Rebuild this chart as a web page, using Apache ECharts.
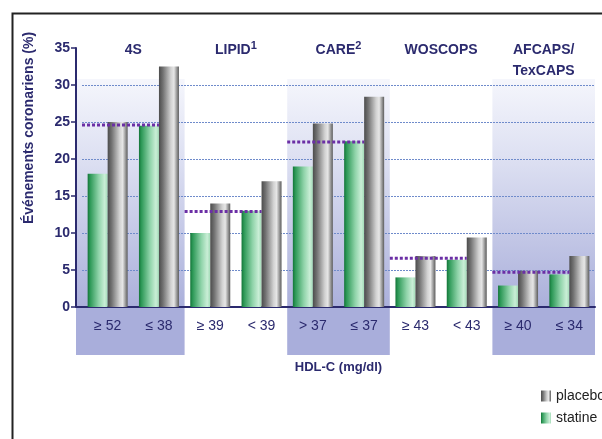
<!DOCTYPE html>
<html><head><meta charset="utf-8">
<script src="https://cdn.jsdelivr.net/npm/echarts@6/dist/echarts.min.js"></script>
<style>html,body{margin:0;padding:0;background:#fff}#c{width:602px;height:439px}</style>
</head><body><div id="c"></div>
<script>
// ---- data ----
const groups = ['4S', 'LIPID{sup|1}', 'CARE{sup|2}', 'WOSCOPS', 'AFCAPS/\nTexCAPS'];
const categories = ['≥ 52', '≤ 38', '≥ 39', '< 39', '> 37', '≤ 37', '≥ 43', '< 43', '≥ 40', '≤ 34'];
const statine = [18, 24.5, 10, 13, 19, 22.4, 4, 6.4, 2.9, 4.4];
const placebo = [25, 32.5, 14, 17, 24.8, 28.4, 6.9, 9.4, 4.9, 6.9];
const refLevel = [24.6, 12.9, 22.3, 6.6, 4.7];
const shadedGroups = [0, 2, 4];

// ---- styles ----
const NAVY = '#2b2a6e';
const AXIS_OFFSET = 6;
const BAND_TOP = 30.8;
const LABEL_BAND = 48;

const greenGrad = new echarts.graphic.LinearGradient(0, 0, 1, 0, [
  {offset: 0, color: '#137438'}, {offset: 0.12, color: '#2c9856'},
  {offset: 0.55, color: '#8fd3a9'}, {offset: 0.85, color: '#c9eed6'},
  {offset: 1, color: '#a2dbb7'}
]);
const grayGrad = new echarts.graphic.LinearGradient(0, 0, 1, 0, [
  {offset: 0, color: '#4c4c4c'}, {offset: 0.2, color: '#727272'},
  {offset: 0.6, color: '#d2d2d2'}, {offset: 0.75, color: '#e6e6e6'},
  {offset: 1, color: '#5c5c5c'}
]);

function renderBand(params, api) {
  const g = api.value(0);
  const bw = api.size([1, 0])[0];
  const l = api.coord([2 * g, 0]);
  const r = api.coord([2 * g + 1, 0]);
  let x0 = l[0] - bw / 2;
  const children = [];
  if (g === 0) {
    x0 = params.coordSys.x - AXIS_OFFSET;
    children.push({type: 'line', shape: {x1: x0, y1: l[1], x2: params.coordSys.x, y2: l[1]},
      style: {stroke: NAVY, lineWidth: 2}});
  }
  const x1 = r[0] + bw / 2;
  const yTop = api.coord([0, BAND_TOP])[1];
  const y0 = l[1];
  children.unshift(
    {type: 'rect', shape: {x: x0, y: yTop, width: x1 - x0, height: y0 - yTop},
      style: {fill: new echarts.graphic.LinearGradient(0, 0, 0, 1, [
        {offset: 0, color: '#f5f6fc'}, {offset: 0.35, color: '#dde0f2'}, {offset: 1, color: '#abb0db'}])}},
    {type: 'rect', shape: {x: x0, y: y0, width: x1 - x0, height: LABEL_BAND},
      style: {fill: '#a9aedb'}}
  );
  return {type: 'group', children: children};
}

function renderRef(params, api) {
  const g = api.value(0), v = api.value(1);
  const bw = api.size([1, 0])[0];
  const a = api.coord([2 * g, v]);
  const b = api.coord([2 * g + 1, v]);
  return {type: 'line', shape: {x1: a[0] - bw / 2, y1: a[1], x2: b[0], y2: b[1]},
    style: {stroke: '#6b2fa5', lineWidth: 3, lineDash: [3, 2]}};
}

const chart = echarts.init(document.getElementById('c'), null, {renderer: 'canvas'});
chart.setOption({
  animation: false,
  backgroundColor: '#fff',
  textStyle: {fontFamily: 'Liberation Sans, Arial, sans-serif'},
  grid: {left: 82, right: 7, top: 48, bottom: 132},
  graphic: [{
    type: 'rect', left: 10, top: 11, z: 100,
    shape: {width: 700, height: 600},
    style: {fill: 'none', stroke: '#222', lineWidth: 2}
  }],
  legend: {
    orient: 'vertical', left: 536, top: 384, itemWidth: 10, itemHeight: 11, itemGap: 8,
    data: ['placebo', 'statine'],
    textStyle: {fontSize: 14, color: '#222'}, icon: 'rect'
  },
  xAxis: [{
    type: 'category', data: categories,
    axisLine: {lineStyle: {color: NAVY, width: 2}},
    axisTick: {show: false},
    axisLabel: {interval: 0, fontSize: 14, color: NAVY, margin: 12},
    name: 'HDL-C (mg/dl)', nameLocation: 'middle', nameGap: 54,
    nameTextStyle: {fontSize: 13, fontWeight: 'bold', color: NAVY}
  }, {
    type: 'category', data: groups, position: 'top',
    axisLine: {show: false}, axisTick: {show: false}, splitLine: {show: false},
    axisLabel: {interval: 0, fontSize: 14, fontWeight: 'bold', color: NAVY, margin: 8,
      verticalAlign: 'top', lineHeight: 21,
      rich: {sup: {fontSize: 11, fontWeight: 'bold', color: NAVY, verticalAlign: 'top', lineHeight: 14}}}
  }],
  yAxis: {
    type: 'value', min: 0, max: 35, interval: 5, offset: AXIS_OFFSET,
    axisLine: {show: true, lineStyle: {color: NAVY, width: 2}},
    axisTick: {show: true, length: 5, lineStyle: {color: NAVY, width: 1.5}},
    axisLabel: {fontSize: 14, fontWeight: 'bold', color: NAVY, margin: 6},
    splitLine: {show: true, showMinLine: false, showMaxLine: false,
      lineStyle: {color: '#6f8bcb', width: 1.2, type: [2, 1]}},
    name: 'Événements coronariens (%)', nameLocation: 'middle', nameRotate: 90, nameGap: 40,
    nameTextStyle: {fontSize: 14, fontWeight: 'bold', color: NAVY, padding: [0, 0, 0, 99]}
  },
  series: [
    {type: 'custom', name: 'bands', z: -1, clip: false, silent: true,
      renderItem: renderBand, data: shadedGroups.map(g => [g])},
    {type: 'bar', name: 'statine', data: statine, barWidth: 20, barGap: '0%',
      itemStyle: {color: greenGrad}},
    {type: 'bar', name: 'placebo', data: placebo, barWidth: 20, barGap: '0%',
      itemStyle: {color: grayGrad}},
    {type: 'custom', name: 'ref', z: 5, silent: true,
      renderItem: renderRef, data: refLevel.map((v, g) => [g, v])}
  ]
});
</script></body></html>
